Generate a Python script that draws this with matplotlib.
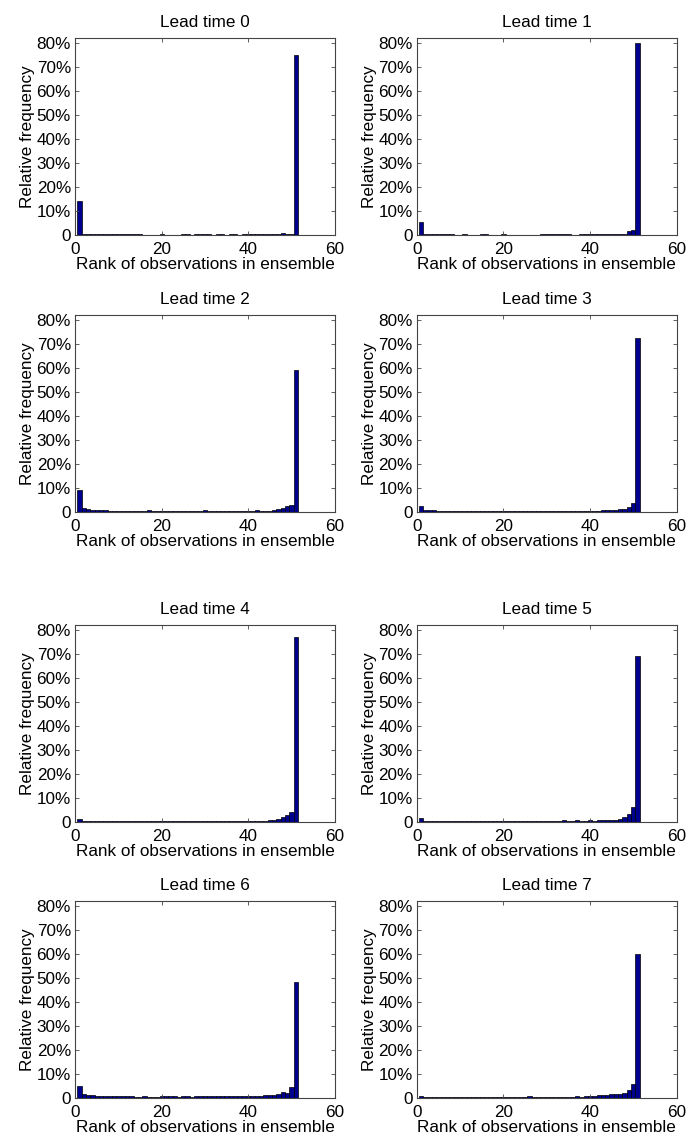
import numpy as np
import matplotlib.pyplot as plt
from matplotlib.ticker import FuncFormatter

plt.rcParams['font.family'] = ['Liberation Sans', 'DejaVu Sans']

# rank histograms, relative frequency in %, ranks 1..51
ranks = np.arange(1, 52)

lead0 = [14.0, 0.6, 0.5, 0.4, 0.3, 0.3, 0.4, 0.3, 0.3, 0.3,
         0.3, 0.3, 0.3, 0.3, 0.3, 0.2, 0.2, 0.2, 0.2, 0.3,
         0.2, 0.2, 0.2, 0.2, 0.3, 0.3, 0.2, 0.3, 0.3, 0.3,
         0.3, 0.2, 0.3, 0.3, 0.2, 0.4, 0.3, 0.2, 0.3, 0.3,
         0.3, 0.4, 0.3, 0.3, 0.4, 0.4, 0.5, 0.8, 0.6, 0.5,
         75.0]
lead1 = [5.5, 0.6, 0.5, 0.4, 0.4, 0.3, 0.3, 0.3, 0.2, 0.2,
         0.3, 0.2, 0.2, 0.2, 0.4, 0.3, 0.2, 0.2, 0.2, 0.3,
         0.2, 0.2, 0.2, 0.2, 0.2, 0.2, 0.2, 0.2, 0.3, 0.3,
         0.3, 0.3, 0.4, 0.4, 0.3, 0.2, 0.2, 0.3, 0.3, 0.5,
         0.3, 0.3, 0.4, 0.3, 0.4, 0.4, 0.4, 0.6, 1.6, 2.1,
         80.0]
lead2 = [9.3, 1.6, 1.1, 1.0, 1.0, 0.8, 0.7, 0.6, 0.6, 0.6,
         0.6, 0.6, 0.5, 0.5, 0.4, 0.5, 0.8, 0.6, 0.5, 0.6,
         0.6, 0.6, 0.5, 0.5, 0.5, 0.5, 0.5, 0.6, 0.5, 0.8,
         0.5, 0.5, 0.6, 0.6, 0.6, 0.6, 0.6, 0.6, 0.6, 0.6,
         0.5, 1.0, 0.6, 0.6, 0.6, 0.7, 1.3, 1.8, 2.6, 2.8,
         59.0]
lead3 = [2.3, 0.8, 0.7, 0.7, 0.4, 0.4, 0.4, 0.3, 0.3, 0.3,
         0.3, 0.3, 0.4, 0.4, 0.4, 0.4, 0.4, 0.3, 0.3, 0.4,
         0.3, 0.3, 0.3, 0.3, 0.3, 0.3, 0.3, 0.3, 0.4, 0.3,
         0.4, 0.4, 0.4, 0.6, 0.5, 0.6, 0.5, 0.5, 0.6, 0.5,
         0.6, 0.6, 0.9, 0.9, 0.8, 0.9, 1.1, 1.4, 2.0, 3.8,
         72.5]
lead4 = [1.2, 0.4, 0.3, 0.3, 0.3, 0.3, 0.3, 0.3, 0.3, 0.3,
         0.3, 0.3, 0.3, 0.3, 0.3, 0.3, 0.3, 0.3, 0.3, 0.3,
         0.3, 0.3, 0.3, 0.3, 0.3, 0.3, 0.3, 0.3, 0.3, 0.3,
         0.3, 0.3, 0.3, 0.4, 0.4, 0.4, 0.4, 0.4, 0.4, 0.5,
         0.5, 0.6, 0.6, 0.6, 0.8, 1.0, 1.4, 2.1, 2.9, 4.0,
         77.0]
lead5 = [1.8, 0.6, 0.6, 0.6, 0.3, 0.3, 0.3, 0.3, 0.3, 0.3,
         0.3, 0.3, 0.4, 0.4, 0.4, 0.4, 0.4, 0.3, 0.3, 0.4,
         0.4, 0.3, 0.3, 0.3, 0.3, 0.4, 0.4, 0.4, 0.4, 0.4,
         0.4, 0.4, 0.4, 0.7, 0.5, 0.5, 0.7, 0.5, 0.5, 0.7,
         0.6, 0.7, 0.7, 0.7, 0.8, 0.9, 1.2, 2.0, 3.2, 6.2,
         69.0]
lead6 = [4.9, 1.5, 1.1, 1.1, 1.0, 0.8, 0.9, 0.8, 0.8, 0.8,
         0.7, 0.7, 0.7, 0.6, 0.6, 0.7, 0.6, 0.6, 0.6, 0.7,
         0.7, 0.7, 0.7, 0.6, 0.7, 0.8, 0.6, 0.7, 0.7, 0.7,
         0.7, 0.7, 0.8, 0.8, 0.8, 0.8, 0.8, 0.8, 0.8, 0.8,
         0.8, 0.8, 1.0, 1.1, 1.1, 1.4, 1.6, 2.5, 2.3, 4.4,
         48.5]
lead7 = [0.9, 0.5, 0.4, 0.6, 0.6, 0.6, 0.6, 0.5, 0.5, 0.4,
         0.6, 0.6, 0.5, 0.4, 0.5, 0.5, 0.4, 0.6, 0.4, 0.5,
         0.5, 0.5, 0.5, 0.5, 0.4, 0.7, 0.5, 0.5, 0.5, 0.5,
         0.6, 0.6, 0.6, 0.6, 0.5, 0.6, 0.7, 0.6, 1.0, 1.0,
         1.0, 1.1, 1.1, 1.2, 1.5, 1.7, 1.8, 2.2, 3.4, 6.0,
         60.0]

leads = [lead0, lead1, lead2, lead3, lead4, lead5, lead6, lead7]

fig = plt.figure(figsize=(6.89, 11.42), dpi=100)

# axes positions (left, bottom) in figure fraction
lefts = [0.109, 0.605]
bottoms = [0.7942, 0.5517, 0.2802, 0.0385]
w, h = 0.377, 0.1725
fs = 12.3

pct = FuncFormatter(lambda v, p: '0' if abs(v) < 1e-9 else f'{v*100:.0f}%')

for i, vals in enumerate(leads):
    ax = fig.add_axes([lefts[i % 2], bottoms[i // 2], w, h])
    ax.bar(ranks, np.array(vals) / 100, width=1.0, color='#00008F',
           edgecolor='black', linewidth=0.5)
    ax.set_xlim(0, 60)
    ax.set_ylim(0, 0.82)
    ax.set_xticks([0, 20, 40, 60])
    ax.set_yticks(np.arange(0, 0.81, 0.1))
    ax.yaxis.set_major_formatter(pct)
    ax.tick_params(direction='in', top=True, right=True, length=3,
                   width=0.6, color='#444444', labelsize=fs)
    ax.tick_params(axis='x', pad=5)
    ax.tick_params(axis='y', pad=3)
    for s in ax.spines.values():
        s.set_color('#444444')
        s.set_linewidth(0.8)
    ax.set_title(f'Lead time {i}', fontsize=fs, pad=8)
    ax.set_xlabel('Rank of observations in ensemble', fontsize=fs, labelpad=0)
    ax.set_ylabel('Relative frequency', fontsize=fs, labelpad=1)

plt.savefig('out.png', dpi=100)
